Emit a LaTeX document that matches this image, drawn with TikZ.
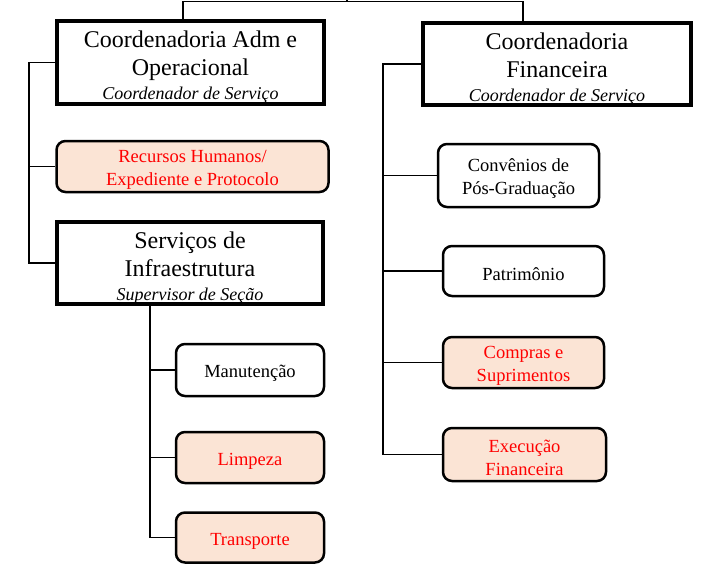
\documentclass[tikz,border=0pt]{standalone}
\usepackage{fontspec}
\setmainfont{Liberation Serif}
\usepackage{xcolor}
\definecolor{pessego}{HTML}{FBE4D5}
\definecolor{vermelho}{HTML}{FF0000}
\newcommand{\folgaG}{\rule{0pt}{26.5pt}}
\newcommand{\folgaP}{\rule{0pt}{19pt}}

\begin{document}
\begin{tikzpicture}[x=1pt,y=-1pt,
  chefia/.style={draw, line width=4pt, minimum height=80pt, inner sep=0pt,
    align=center, font=\fontsize{24}{28}\selectfont},
  setor/.style={draw, line width=2.5pt, rounded corners=9pt, minimum height=51pt,
    inner sep=0pt, align=center, font=\fontsize{18.5}{23}\selectfont},
  destaque/.style={setor, fill=pessego, text=vermelho},
  linha/.style={line width=1.5pt}]

\useasboundingbox (0,0) rectangle (711,565);

% coordenadorias
\node[chefia, minimum width=267pt] (adm) at (190.5,62.5)
  {\folgaG Coordenadoria Adm e\\Operacional\\[-4pt]{\fontsize{18}{22}\selectfont\itshape Coordenador de Serviço}};
\node[chefia, minimum width=268pt] (fin) at (557,64)
  {\folgaG Coordenadoria\\Financeira\\[-4pt]{\fontsize{18}{22}\selectfont\itshape Coordenador de Serviço}};
\node[chefia, minimum width=266pt] (serv) at (190,263)
  {\folgaG Serviços de\\Infraestrutura\\[-4pt]{\fontsize{18}{22}\selectfont\itshape Supervisor de Seção}};

% setores
\node[destaque, minimum width=272pt] (rh) at (192.5,166.5) {\folgaP Recursos Humanos/\\Expediente e Protocolo};
\node[setor, minimum width=148pt, minimum height=52pt] (manut) at (250,370) {\folgaP Manutenção};
\node[destaque, minimum width=148pt] (limp) at (250,457.5) {\folgaP Limpeza};
\node[destaque, minimum width=148pt, minimum height=50pt] (transp) at (250,537.5) {\folgaP Transporte};

\node[setor, minimum width=161pt, minimum height=63pt] (conv) at (518.5,175.5) {\folgaP Convênios de\\Pós-Graduação};
\node[setor, minimum width=161pt, minimum height=50pt] (patr) at (523.5,271) {\folgaP Patrimônio};
\node[destaque, minimum width=161pt] (compras) at (523.5,362.5) {\folgaP Compras e\\Suprimentos};
\node[destaque, minimum width=163pt, minimum height=53pt] (exec) at (524.5,454.5) {\folgaP Execução\\Financeira};

% ligacoes
\coordinate (chefe) at (347,-4);
\coordinate (barra) at (347,1.5);
\coordinate (xAdm) at (183,0);
\coordinate (xFin) at (523,0);
\coordinate (troncoE) at (29,0);
\coordinate (troncoD) at (383,0);
\coordinate (troncoS) at (150,0);

\draw[linha] (chefe) -- (barra);
\draw[linha] (adm.north -| xAdm) |- (barra) -| (fin.north -| xFin);

\draw[linha] (adm.west) -| (troncoE |- serv.west) -- (serv.west);
\draw[linha] (troncoE |- rh.west) -- (rh.west);

\draw[linha] (serv.south -| troncoS) |- (transp.west);
\draw[linha] (troncoS |- manut.west) -- (manut.west);
\draw[linha] (troncoS |- limp.west) -- (limp.west);

\draw[linha] (fin.west) -| (troncoD |- exec.west) -- (exec.west);
\draw[linha] (troncoD |- conv.west) -- (conv.west);
\draw[linha] (troncoD |- patr.west) -- (patr.west);
\draw[linha] (troncoD |- compras.west) -- (compras.west);

\end{tikzpicture}
\end{document}
